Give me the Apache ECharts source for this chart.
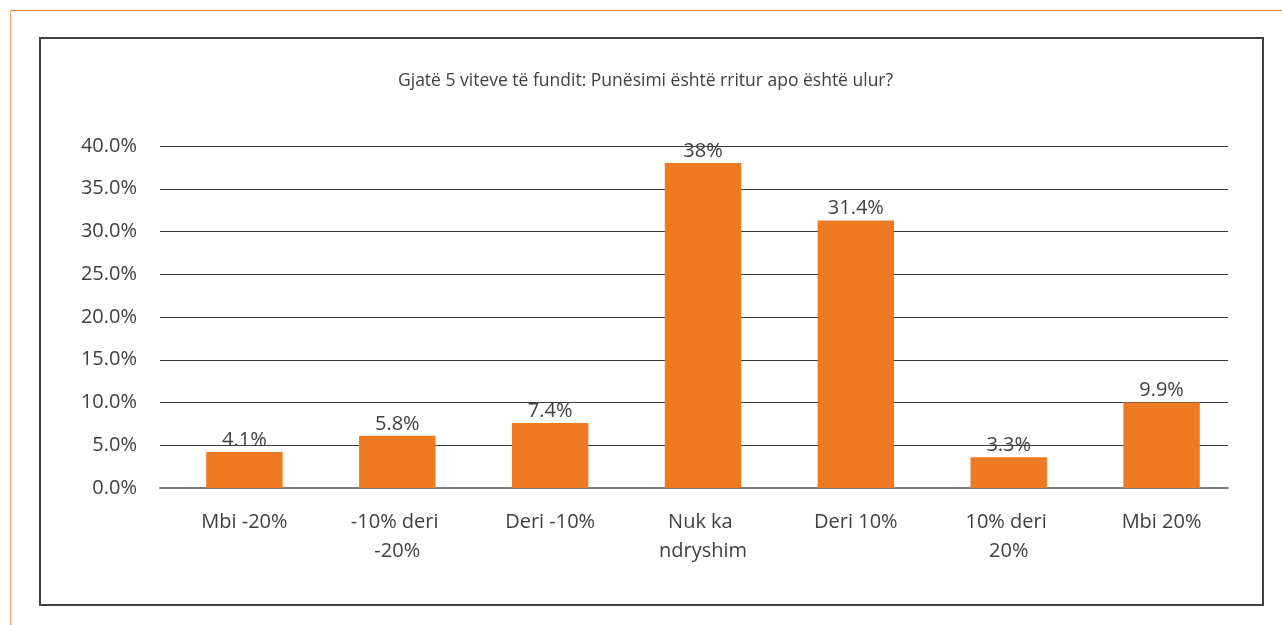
<!DOCTYPE html>
<html>
<head>
<meta charset="utf-8">
<script src="https://cdn.jsdelivr.net/npm/echarts@6/dist/echarts.min.js"></script>
<style>
  body { margin: 0; background: #fff; width: 1282px; height: 625px; overflow: hidden; position: relative; }
  .frame { position: absolute; left: 10px; top: 10px; width: 1272px; height: 615px;
    border-top: 1px solid #f47c3c; border-left: 1px solid #f7a172; box-sizing: border-box; }
  #chart { position: absolute; left: 39px; top: 37px; width: 1225px; height: 569px;
    border: 2px solid #404040; box-sizing: border-box; }
</style>
</head>
<body>
<div class="frame"></div>
<div id="chart"></div>
<script>
const categories = ['Mbi -20%', '-10% deri -20%', 'Deri -10%', 'Nuk ka ndryshim', 'Deri 10%', '10% deri 20%', 'Mbi 20%'];
// bar heights as drawn (percent)
const barValues = [4.2, 6.1, 7.6, 38.0, 31.3, 3.6, 10.0];
// value labels as printed above the bars
const labelTexts = ['4.1%', '5.8%', '7.4%', '38%', '31.4%', '3.3%', '9.9%'];
const yTicks = [0, 5, 10, 15, 20, 25, 30, 35, 40];

const font = '"Open Sans", "Noto Sans", sans-serif';
const textColor = '#404040';
const yMin = yTicks[0], yMax = yTicks[yTicks.length - 1];

const chart = echarts.init(document.getElementById('chart'));
chart.setOption({
  animation: false,
  title: {
    text: 'Gjatë 5 viteve të fundit: Punësimi është rritur apo është ulur?',
    left: 352,
    top: 28,
    textStyle: { fontFamily: font, fontSize: 17.5, fontWeight: 'normal', color: textColor }
  },
  // grid 0 carries the value axis, gridlines and base line; grid 1 carries the bars
  grid: [
    { left: 119, right: 34, top: 107, bottom: 116 },
    { left: 127, right: 24, top: 107, bottom: 116 }
  ],
  xAxis: [{
    gridIndex: 0,
    type: 'category',
    data: categories,
    axisTick: { show: false },
    axisLabel: { show: false },
    axisLine: { lineStyle: { color: '#7f7f7f', width: 2 } }
  }, {
    gridIndex: 1,
    type: 'category',
    data: categories,
    axisTick: { show: false },
    axisLine: { show: false },
    axisLabel: {
      interval: 0,
      margin: 20,
      width: 105,
      overflow: 'break',
      lineHeight: 29,
      fontFamily: font,
      fontSize: 20,
      color: textColor
    }
  }],
  yAxis: [{
    gridIndex: 0,
    type: 'value',
    min: yMin,
    max: yMax,
    interval: 5,
    axisLine: { show: false },
    axisTick: { show: false },
    splitLine: { lineStyle: { color: '#3a3a3a', width: 1 } },
    axisLabel: {
      margin: 23,
      fontFamily: font,
      fontSize: 20,
      color: textColor,
      formatter: v => v.toFixed(1) + '%'
    }
  }, {
    gridIndex: 1,
    type: 'value',
    min: yMin,
    max: yMax,
    interval: 5,
    show: false,
    splitLine: { show: false }
  }],
  series: [{
    type: 'bar',
    xAxisIndex: 1,
    yAxisIndex: 1,
    data: barValues,
    barWidth: '50%',
    itemStyle: { color: '#ee7b23' },
    label: {
      show: true,
      position: 'top',
      distance: 2,
      fontFamily: font,
      fontSize: 20,
      color: textColor,
      formatter: p => labelTexts[p.dataIndex]
    }
  }]
});
</script>
</body>
</html>
